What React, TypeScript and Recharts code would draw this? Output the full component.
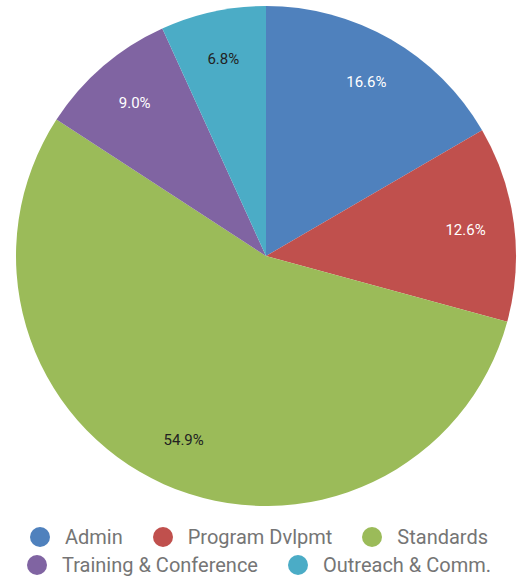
import { Cell, Legend, Pie, PieChart } from "recharts";

const categories = ["Admin", "Program Dvlpmt", "Standards", "Training & Conference", "Outreach & Comm."];
const shares = [16.6, 12.6, 54.9, 9.0, 6.8];
const colors = ["#4F81BD", "#C0504D", "#9BBB59", "#8064A2", "#4BACC6"];
const labelColors = ["#ffffff", "#ffffff", "#222222", "#ffffff", "#222222"];

const data = categories.map((name, i) => ({ name, value: shares[i] }));

const RAD = Math.PI / 180;

function SliceLabel(props: any) {
  const { cx, cy, midAngle, outerRadius, index, value } = props;
  const r = outerRadius * 0.805;
  const x = cx + r * Math.cos(-midAngle * RAD);
  const y = cy + r * Math.sin(-midAngle * RAD);
  return (
    <text
      x={x}
      y={y}
      fill={labelColors[index]}
      textAnchor="middle"
      dominantBaseline="central"
      fontFamily="Roboto"
      fontSize={15}
    >
      {value.toFixed(1)}%
    </text>
  );
}

function LegendRows() {
  return (
    <div
      style={{
        display: "flex",
        flexWrap: "wrap",
        justifyContent: "center",
        columnGap: 30,
        width: 518,
        fontFamily: "Roboto",
        fontSize: 20,
        color: "#757575",
        lineHeight: "28px",
      }}
    >
      {categories.map((name, i) => (
        <div key={name} style={{ display: "flex", alignItems: "center" }}>
          <span
            style={{
              width: 20,
              height: 20,
              borderRadius: "50%",
              background: colors[i],
              display: "inline-block",
              marginRight: 15,
            }}
          />
          {name}
        </div>
      ))}
    </div>
  );
}

export default function App() {
  return (
    <div style={{ position: "absolute", left: 0, top: 0, width: 518, height: 577, background: "#fff" }}>
      <PieChart width={518} height={577} margin={{ top: 0, right: 0, bottom: 0, left: 0 }}>
        <Pie
          data={data}
          dataKey="value"
          nameKey="name"
          cx={266}
          cy={256}
          outerRadius={250}
          startAngle={90}
          endAngle={-270}
          stroke="none"
          labelLine={false}
          label={SliceLabel}
          isAnimationActive={false}
        >
          {data.map((d, i) => (
            <Cell key={d.name} fill={colors[i]} />
          ))}
        </Pie>
        <Legend content={LegendRows} wrapperStyle={{ left: 0, top: 523, width: 518 }} />
      </PieChart>
    </div>
  );
}
